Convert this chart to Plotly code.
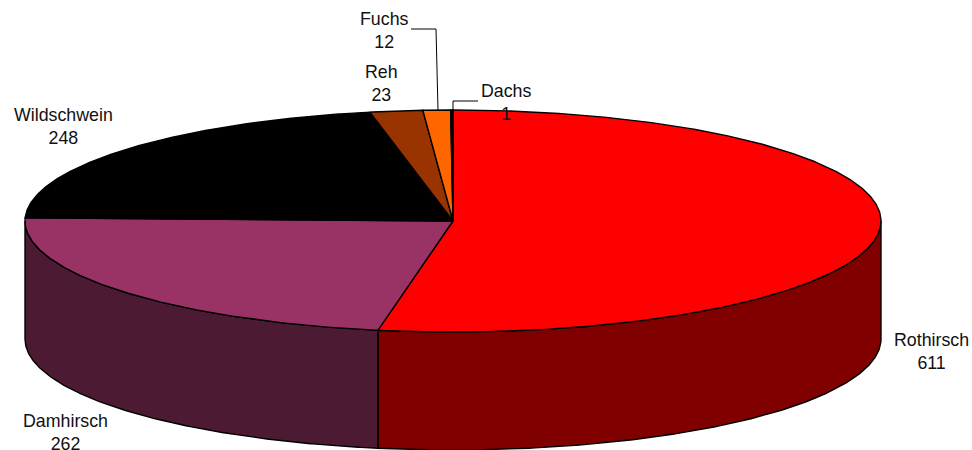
import numpy as np
import plotly.graph_objects as go

categories = ["Rothirsch", "Damhirsch", "Wildschwein", "Reh", "Fuchs", "Dachs"]
values = [611, 262, 248, 23, 12, 1]
top_colors = ["#FF0000", "#993366", "#000000", "#993300", "#FF6600", "#000000"]
wall_colors = ["#800000", "#4C1B33", "#000000", "#4C1900", "#803300", "#000000"]
label_x = [931, 65, 63, 381, 384, 506]
label_y = [351, 432, 126, 83, 30, 102]
leaders = {"Fuchs": ([411, 436, 438], [29, 29, 110]), "Dachs": ([478, 453, 453], [101, 101, 111])}

CX, CY, RX, RY, DEPTH = 453, 221, 428, 111, 118
W, H = 972, 450
LINE = dict(color="#000000", width=1.4)


def rim(a0, a1, dy=0):
    t = np.radians(np.linspace(a0, a1, max(2, int(abs(a1 - a0) * 3) + 2)))
    return CX + RX * np.sin(t), CY + dy - RY * np.cos(t)


total = sum(values)
edges = np.concatenate([[0], np.cumsum(values)]) / total * 360
fig = go.Figure()

# side walls: only the front half of the cylinder shows
for i, c in enumerate(categories):
    a0, a1 = max(edges[i], 90), min(edges[i + 1], 270)
    if a1 <= a0:
        continue
    xt, yt = rim(a0, a1)
    xb, yb = rim(a1, a0, DEPTH)
    fig.add_trace(go.Scatter(
        x=np.r_[xt, xb, xt[0]], y=np.r_[yt, yb, yt[0]], mode="lines", fill="toself",
        fillcolor=wall_colors[i], line=LINE, hoverinfo="skip", showlegend=False))

# top face
for i, c in enumerate(categories):
    xt, yt = rim(edges[i], edges[i + 1])
    fig.add_trace(go.Scatter(
        x=np.r_[CX, xt, CX], y=np.r_[CY, yt, CY], mode="lines", fill="toself",
        fillcolor=top_colors[i], line=LINE, name=c, hoverinfo="name", showlegend=False))

for name, (lx, ly) in leaders.items():
    fig.add_trace(go.Scatter(x=lx, y=ly, mode="lines", line=dict(color="#000000", width=1),
                             hoverinfo="skip", showlegend=False))

for c, v, x, y in zip(categories, values, label_x, label_y):
    fig.add_annotation(x=x, y=y, text=f"{c}<br>{v}", showarrow=False, xanchor="center",
                       yanchor="middle", align="center",
                       font=dict(family="Liberation Sans", size=17.8, color="#111111"))

fig.update_xaxes(range=[0, W], visible=False, fixedrange=True)
fig.update_yaxes(range=[H, 0], visible=False, fixedrange=True)
fig.update_layout(width=W, height=H, margin=dict(l=0, r=0, t=0, b=0),
                  paper_bgcolor="#FFFFFF", plot_bgcolor="#FFFFFF")
fig.write_html("out.html", config={"displayModeBar": False},
               post_script="document.body.style.margin='0';document.body.style.overflow='hidden';")
